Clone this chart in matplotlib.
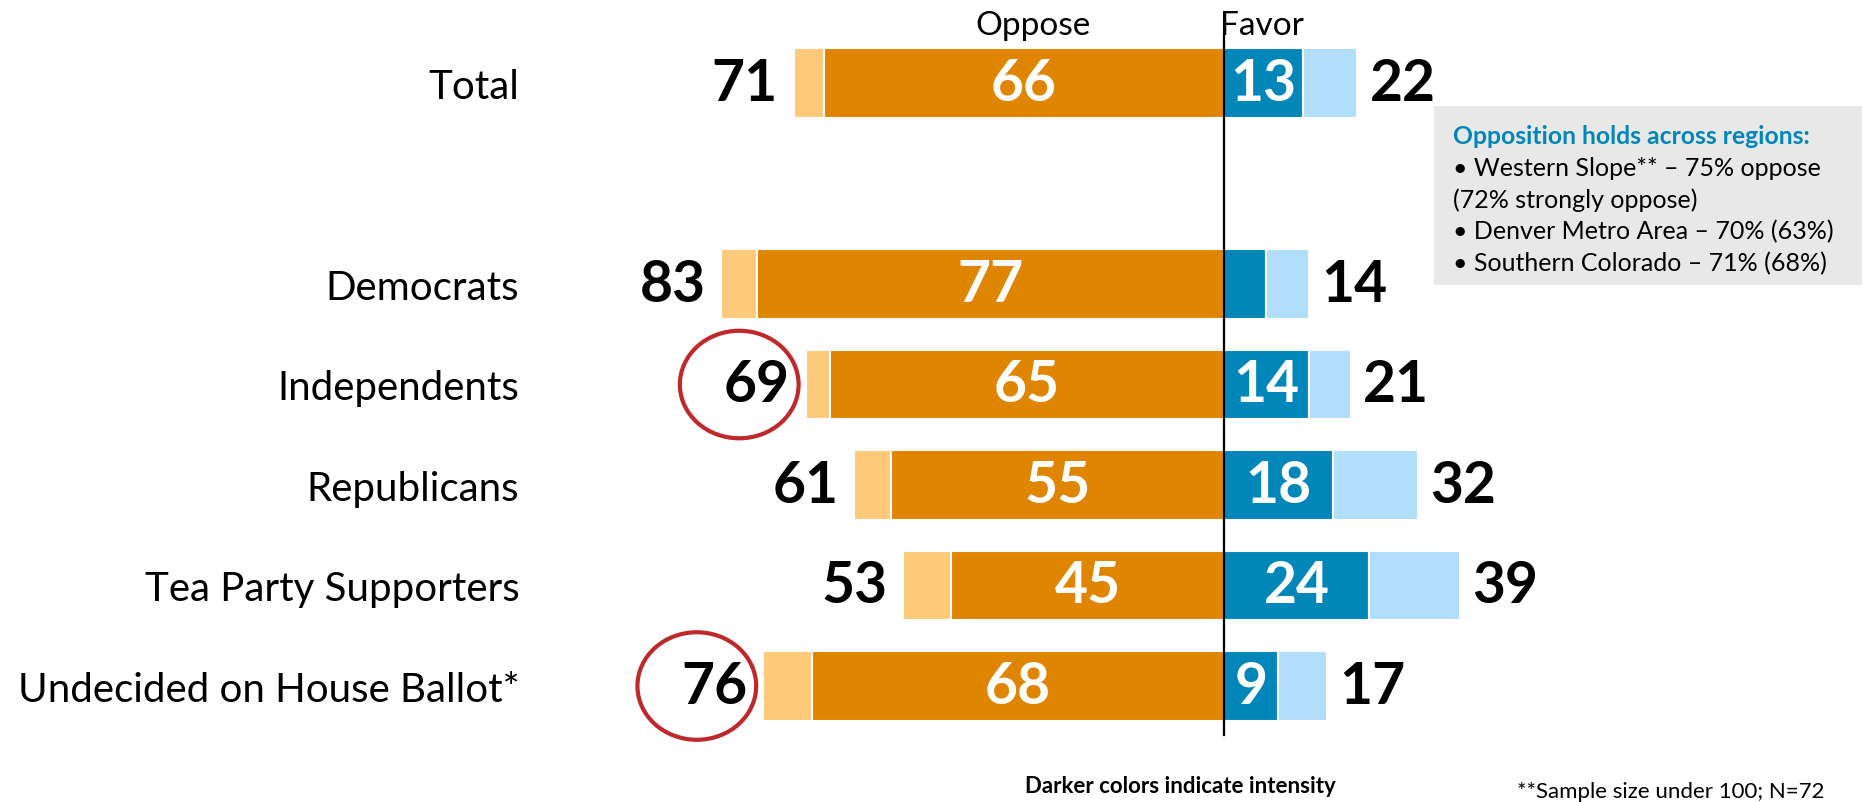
import matplotlib
matplotlib.use("Agg")
import matplotlib.pyplot as plt
from matplotlib.patches import Ellipse, Rectangle

plt.rcParams['font.family'] = ['Lato', 'DejaVu Sans']

groups = ['Total', 'Democrats', 'Independents', 'Republicans',
          'Tea Party Supporters', 'Undecided on House Ballot*']
oppose_total = [71, 83, 69, 61, 53, 76]
oppose_strong = [66, 77, 65, 55, 45, 68]
favor_strong = [13, 7, 14, 18, 24, 9]
favor_total = [22, 14, 21, 32, 39, 17]
circled = ['Independents', 'Undecided on House Ballot*']

region_title = 'Opposition holds across regions:'
region_lines = ['\u2022 Western Slope** \u2013 75% oppose',
                '(72% strongly oppose)',
                '\u2022 Denver Metro Area \u2013 70% (63%)',
                '\u2022 Southern Colorado \u2013 71% (68%)']

ORANGE = '#DF8500'
ORANGE_LT = '#FFC97A'
BLUE = '#0086B8'
BLUE_LT = '#B1DEFB'

ypos = [0, 2, 3, 4, 5, 6]
h = 0.69

fig = plt.figure(figsize=(18.62, 8.03), dpi=100)
ax = fig.add_axes([0, 0, 1, 1])
ax.set_xlim(-202, 105.3)
ax.set_ylim(7.154, -0.836)
ax.axis('off')

for i, g in enumerate(groups):
    y = ypos[i]
    ot, os_, fs, ft = oppose_total[i], oppose_strong[i], favor_strong[i], favor_total[i]
    # oppose: light part outside, strong part next to the centre line
    ax.barh(y, -(ot - os_), left=-os_, height=h, color=ORANGE_LT, edgecolor='white', linewidth=1.5)
    ax.barh(y, -os_, height=h, color=ORANGE, edgecolor='white', linewidth=1.5)
    ax.barh(y, fs, height=h, color=BLUE, edgecolor='white', linewidth=1.5)
    ax.barh(y, ft - fs, left=fs, height=h, color=BLUE_LT, edgecolor='white', linewidth=1.5)

    ax.text(-os_ / 2, y, str(os_), color='white', fontsize=41, fontweight='bold',
            ha='center', va='center')
    if fs >= 9:
        ax.text(fs / 2, y, str(fs), color='white', fontsize=41, fontweight='bold',
                ha='center', va='center')
    ax.text(-ot - 2.6, y, str(ot), color='black', fontsize=41, fontweight='bold',
            ha='right', va='center')
    ax.text(ft + 2.0, y, str(ft), color='black', fontsize=41, fontweight='bold',
            ha='left', va='center')
    ax.text(-116.3, y + 0.03, g, fontsize=29, ha='right', va='center')

    if g in circled:
        ax.add_patch(Ellipse((-ot - 11, y), 19.6, 1.07, fill=False,
                             edgecolor='#C0292B', linewidth=3))

ax.plot([0, 0], [-0.48, 6.49], color='black', linewidth=1.6)
ax.text(-31.5, -0.58, 'Oppose', fontsize=24, ha='center', va='center')
ax.text(6.3, -0.58, 'Favor', fontsize=24, ha='center', va='center')

# grey note box on the right
W, H = 1862, 803
fig.patches.append(Rectangle((1434 / W, 1 - 286 / H), 428 / W, 179 / H,
                             transform=fig.transFigure, facecolor='#E8E8E8',
                             edgecolor='none', zorder=0))
fig.text(1453 / W, 1 - 137 / H, region_title, color=BLUE, fontsize=17.8,
         fontweight='bold', va='center')
for k, line in enumerate(region_lines):
    fig.text(1453 / W, 1 - (169 + 31.5 * k) / H, line, fontsize=18, va='center')

fig.text(1180 / W, 1 - 787 / H, 'Darker colors indicate intensity', fontsize=16,
         fontweight='bold', ha='center', va='center')
fig.text(1517 / W, 1 - 798 / H, '**Sample size under 100; N=72', fontsize=16,
         ha='left', va='baseline')

fig.savefig('out.png', dpi=100)
